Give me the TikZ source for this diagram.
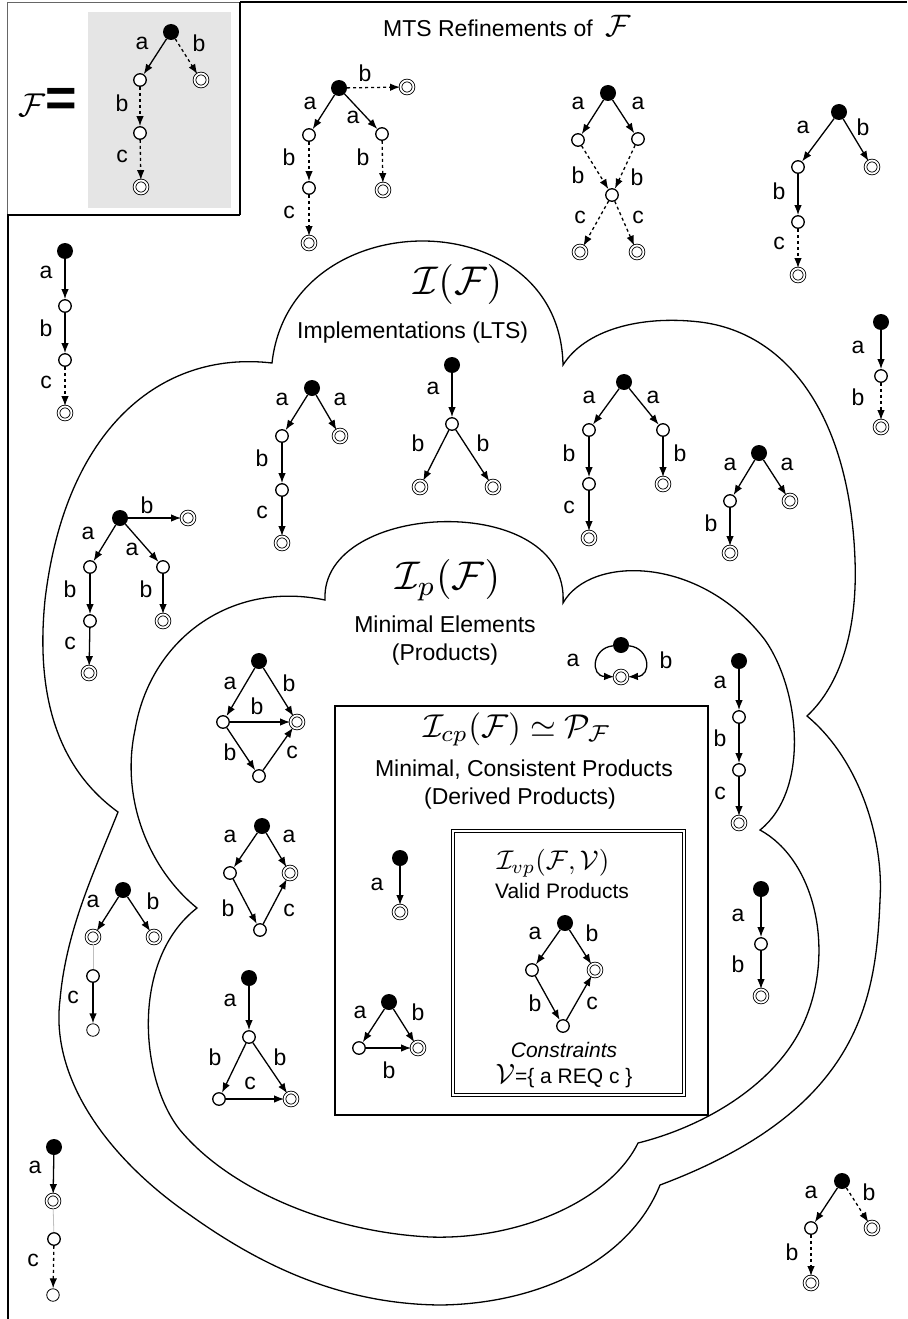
\documentclass[tikz,border=0pt]{standalone}
\usepackage{graphicx}
\usepackage{fontspec}
\setmainfont{Liberation Sans}
\usetikzlibrary{arrows.meta}
% math at an arbitrary size, scaled from the 10pt design size
\newcommand{\scaledmath}[2]{\scalebox{#1}{\normalsize$#2$}}
\begin{document}
\begin{tikzpicture}[x=1pt,y=-1pt,
  init/.style={circle,fill=black,inner sep=0pt,minimum size=16pt},
  st/.style={circle,draw,fill=white,line width=1.3pt,inner sep=0pt,minimum size=12.5pt},
  fin/.style={circle,draw,fill=white,double,double distance=1.8pt,line width=0.85pt,inner sep=0pt,minimum size=13pt},
  ghost/.style={circle,draw,fill=white,line width=0.8pt,inner sep=0pt,minimum size=12.5pt},
  arr/.style={line width=1.3pt,-{Latex[length=10pt,width=7.5pt]}},
  darr/.style={arr,dash pattern=on 3pt off 3pt},
  glink/.style={draw=black!25,line width=0.8pt},
  lab/.style={font=\fontsize{23}{23}\selectfont,inner sep=0pt},
  ttl/.style={font=\fontsize{23}{26}\selectfont,inner sep=0pt,anchor=base},
  sml/.style={font=\fontsize{21}{24}\selectfont,inner sep=0pt,anchor=base},
  mth/.style={inner sep=0pt,anchor=base},
  cloudline/.style={line width=1.3pt},
]
\useasboundingbox (0,0) rectangle (907,1319);

% ---------- frame and the featured transition system F ----------
\fill[black!10] (88,12) rectangle (231,208);
\draw[line width=0.8pt,black!60] (7,2) -- (7,215);
\draw[line width=1.2pt] (7,215) -- (240,215);
\draw[line width=0.8pt,black!60] (7,2) -- (240,2);
\draw[line width=1.5pt] (240,2) -- (907,2);
\draw[line width=1.5pt] (240,2) -- (240,215);
\draw[line width=1.5pt] (8,215) -- (8,1319);
\node[mth] (feq) at (48,117) {\scaledmath{3.3}{\mathcal{F}}\fontsize{54}{54}\selectfont\bfseries=};

\node[init] (f0r) at (171,32) {};
\node[st] (f0n1) at (140,80) {};
\node[fin] (f0f1) at (201,80) {};
\node[st] (f0n2) at (140,133) {};
\node[fin] (f0f2) at (141,187) {};
\draw[arr] (f0r) -- (f0n1);
\draw[darr] (f0r) -- (f0f1);
\draw[darr] (f0n1) -- (f0n2);
\draw[darr] (f0n2) -- (f0f2);
\node[lab] (f0la) at (142,43) {a};
\node[lab] (f0lb) at (199,43) {b};
\node[lab] (f0lb2) at (122,103) {b};
\node[lab] (f0lc) at (122,156) {c};

\node[ttl,anchor=base west] (mts) at (383,37) {MTS Refinements of\ \ \scaledmath{3.1}{\mathcal{F}}};

% ---------- clouds ----------
\draw[cloudline] (272,363) .. controls (290,200) and (560,200) .. (563,365)
  .. controls (585,330) and (640,315) .. (700,322)
  .. controls (790,333) and (850,420) .. (855,560)
  .. controls (858,640) and (835,690) .. (807,716)
  .. controls (860,760) and (884,840) .. (880,900)
  .. controls (876,1000) and (860,1110) .. (660,1185)
  .. controls (630,1260) and (540,1304) .. (440,1305)
  .. controls (340,1304) and (260,1265) .. (190,1215)
  .. controls (110,1160) and (50,1080) .. (60,1000)
  .. controls (66,930) and (95,870) .. (118,812)
  .. controls (60,770) and (35,700) .. (45,600)
  .. controls (65,430) and (160,350) .. (272,363) -- cycle;

\draw[cloudline] (325,600) .. controls (320,500) and (570,490) .. (563,603)
  .. controls (590,555) and (700,555) .. (765,640)
  .. controls (800,690) and (810,790) .. (760,830)
  .. controls (815,860) and (835,950) .. (805,1020)
  .. controls (780,1080) and (710,1125) .. (638,1143)
  .. controls (610,1200) and (520,1240) .. (430,1237)
  .. controls (330,1232) and (230,1190) .. (180,1130)
  .. controls (140,1080) and (130,960) .. (197,908)
  .. controls (150,870) and (120,800) .. (135,730)
  .. controls (150,640) and (230,580) .. (325,600) -- cycle;

\draw[line width=1.4pt] (335,706) rectangle (708,1115);
\draw[line width=0.9pt,double,double distance=2.2pt] (453,831) rectangle (684,1095);

% ---------- titles ----------
\node[mth] (tI) at (458,294) {\scaledmath{4.0}{\mathcal{I}(\mathcal{F})}};
\node[ttl,anchor=base west] (tIa) at (297,338) {Implementations (LTS)};
\node[mth] (tIp) at (448,589) {\scaledmath{4.0}{\mathcal{I}_p(\mathcal{F})}};
\node[ttl] (tIpa) at (445,632) {Minimal Elements};
\node[ttl] (tIpb) at (445,660) {(Products)};
\node[mth] (tIcp) at (517,737) {\scaledmath{3.3}{\mathcal{I}_{cp}(\mathcal{F}) \simeq \mathcal{P}_{\mathcal{F}}}};
\node[ttl] (tIcpa) at (524,776) {Minimal, Consistent Products};
\node[ttl] (tIcpb) at (520,804) {(Derived Products)};
\node[mth] (tIvp) at (553,869) {\scaledmath{2.7}{\mathcal{I}_{vp}(\mathcal{F},\mathcal{V})}};
\node[sml] (tIvpa) at (562,898) {Valid Products};
\node[sml,font=\fontsize{21}{24}\selectfont\itshape] (tcons) at (564,1057) {Constraints};
\node[sml] (tV) at (564,1083) {\scaledmath{2.8}{\mathcal{V}}=\{ a REQ c \}};

% ---------- T1 ----------
\node[init] (t1r) at (339,88) {};
\node[fin] (t1f) at (407,87) {};
\node[st] (t1n1) at (309,135) {};
\node[st] (t1n2) at (382,134) {};
\node[st] (t1n3) at (309,188) {};
\node[fin] (t1f2) at (309,243) {};
\node[fin] (t1f3) at (383,190) {};
\draw[darr] (t1r) -- (t1f);
\draw[arr] (t1r) -- (t1n1);
\draw[arr] (t1r) -- (t1n2);
\draw[darr] (t1n1) -- (t1n3);
\draw[darr] (t1n2) -- (t1f3);
\draw[darr] (t1n3) -- (t1f2);
\node[lab] (t1l1) at (365,73) {b};
\node[lab] (t1l2) at (310,103) {a};
\node[lab] (t1l3) at (353,117) {a};
\node[lab] (t1l4) at (289,157) {b};
\node[lab] (t1l5) at (363,157) {b};
\node[lab] (t1l6) at (289,212) {c};

% ---------- T2 ----------
\node[init] (t2r) at (608,93) {};
\node[st] (t2n1) at (578,140) {};
\node[st] (t2n2) at (638,139) {};
\node[st] (t2m) at (612,195) {};
\node[fin] (t2f1) at (580,252) {};
\node[fin] (t2f2) at (637,252) {};
\draw[arr] (t2r) -- (t2n1);
\draw[arr] (t2r) -- (t2n2);
\draw[darr] (t2n1) -- (t2m);
\draw[darr] (t2n2) -- (t2m);
\draw[darr] (t2m) -- (t2f1);
\draw[darr] (t2m) -- (t2f2);
\node[lab] (t2l1) at (578,103) {a};
\node[lab] (t2l2) at (638,103) {a};
\node[lab] (t2l3) at (578,175) {b};
\node[lab] (t2l4) at (637,177) {b};
\node[lab] (t2l5) at (580,217) {c};
\node[lab] (t2l6) at (638,217) {c};

% ---------- T3 ----------
\node[init] (t3r) at (839,112) {};
\node[st] (t3n1) at (798,167) {};
\node[fin] (t3f1) at (872,167) {};
\node[st] (t3n2) at (798,222) {};
\node[fin] (t3f2) at (798,275) {};
\draw[arr] (t3r) -- (t3n1);
\draw[arr] (t3r) -- (t3f1);
\draw[arr] (t3n1) -- (t3n2);
\draw[darr] (t3n2) -- (t3f2);
\node[lab] (t3l1) at (803,127) {a};
\node[lab] (t3l2) at (863,127) {b};
\node[lab] (t3l3) at (779,191) {b};
\node[lab] (t3l4) at (779,243) {c};

% ---------- T4 ----------
\node[init] (t4r) at (881,322) {};
\node[st] (t4n1) at (881,376) {};
\node[fin] (t4f) at (881,427) {};
\draw[arr] (t4r) -- (t4n1);
\draw[darr] (t4n1) -- (t4f);
\node[lab] (t4l1) at (858,347) {a};
\node[lab] (t4l2) at (858,397) {b};

% ---------- T5 ----------
\node[init] (t5r) at (65,251) {};
\node[st] (t5n1) at (65,306) {};
\node[st] (t5n2) at (65,360) {};
\node[fin] (t5f) at (65,413) {};
\draw[arr] (t5r) -- (t5n1);
\draw[arr] (t5n1) -- (t5n2);
\draw[darr] (t5n2) -- (t5f);
\node[lab] (t5l1) at (46,272) {a};
\node[lab] (t5l2) at (46,328) {b};
\node[lab] (t5l3) at (46,382) {c};

% ---------- T6 ----------
\node[init] (t6r) at (120,518) {};
\node[fin] (t6f1) at (188,518) {};
\node[st] (t6n1) at (90,567) {};
\node[st] (t6n2) at (163,567) {};
\node[st] (t6n3) at (90,621) {};
\node[fin] (t6f2) at (163,621) {};
\node[fin] (t6f3) at (89,673) {};
\draw[arr] (t6r) -- (t6f1);
\draw[arr] (t6r) -- (t6n1);
\draw[arr] (t6r) -- (t6n2);
\draw[arr] (t6n1) -- (t6n3);
\draw[arr] (t6n2) -- (t6f2);
\draw[arr] (t6n3) -- (t6f3);
\node[lab] (t6l1) at (147,505) {b};
\node[lab] (t6l2) at (88,533) {a};
\node[lab] (t6l3) at (132,549) {a};
\node[lab] (t6l4) at (70,589) {b};
\node[lab] (t6l5) at (146,589) {b};
\node[lab] (t6l6) at (70,643) {c};

% ---------- T7 ----------
\node[init] (t7r) at (312,388) {};
\node[st] (t7n1) at (282,436) {};
\node[fin] (t7f1) at (340,436) {};
\node[st] (t7n2) at (282,490) {};
\node[fin] (t7f2) at (282,543) {};
\draw[arr] (t7r) -- (t7n1);
\draw[arr] (t7r) -- (t7f1);
\draw[arr] (t7n1) -- (t7n2);
\draw[arr] (t7n2) -- (t7f2);
\node[lab] (t7l1) at (282,399) {a};
\node[lab] (t7l2) at (340,399) {a};
\node[lab] (t7l3) at (262,458) {b};
\node[lab] (t7l4) at (262,512) {c};

% ---------- T8 ----------
\node[init] (t8r) at (452,365) {};
\node[st] (t8n1) at (452,424) {};
\node[fin] (t8f1) at (420,487) {};
\node[fin] (t8f2) at (493,487) {};
\draw[arr] (t8r) -- (t8n1);
\draw[arr] (t8n1) -- (t8f1);
\draw[arr] (t8n1) -- (t8f2);
\node[lab] (t8l1) at (433,388) {a};
\node[lab] (t8l2) at (418,443) {b};
\node[lab] (t8l3) at (483,443) {b};

% ---------- T9 ----------
\node[init] (t9r) at (624,382) {};
\node[st] (t9n1) at (589,430) {};
\node[st] (t9n2) at (663,430) {};
\node[st] (t9n3) at (589,484) {};
\node[fin] (t9f1) at (663,484) {};
\node[fin] (t9f2) at (589,538) {};
\draw[arr] (t9r) -- (t9n1);
\draw[arr] (t9r) -- (t9n2);
\draw[arr] (t9n1) -- (t9n3);
\draw[arr] (t9n2) -- (t9f1);
\draw[arr] (t9n3) -- (t9f2);
\node[lab] (t9l1) at (589,397) {a};
\node[lab] (t9l2) at (653,397) {a};
\node[lab] (t9l3) at (569,453) {b};
\node[lab] (t9l4) at (680,453) {b};
\node[lab] (t9l5) at (569,507) {c};

% ---------- T10 ----------
\node[init] (t10r) at (759,453) {};
\node[st] (t10n1) at (730,501) {};
\node[fin] (t10f1) at (790,501) {};
\node[fin] (t10f2) at (730,553) {};
\draw[arr] (t10r) -- (t10n1);
\draw[arr] (t10r) -- (t10f1);
\draw[arr] (t10n1) -- (t10f2);
\node[lab] (t10l1) at (730,464) {a};
\node[lab] (t10l2) at (787,464) {a};
\node[lab] (t10l3) at (711,523) {b};

% ---------- T11 (loop) ----------
\node[init] (t11r) at (621,645) {};
\node[fin] (t11f) at (621,677) {};
\draw[arr] (t11r) .. controls (592,648) and (590,676) .. (t11f);
\draw[arr] (t11r) .. controls (650,648) and (652,676) .. (t11f);
\node[lab] (t11l1) at (573,660) {a};
\node[lab] (t11l2) at (666,660) {b};

% ---------- T12 ----------
\node[init] (t12r) at (739,661) {};
\node[st] (t12n1) at (739,717) {};
\node[st] (t12n2) at (739,770) {};
\node[fin] (t12f) at (739,823) {};
\draw[arr] (t12r) -- (t12n1);
\draw[arr] (t12n1) -- (t12n2);
\draw[arr] (t12n2) -- (t12f);
\node[lab] (t12l1) at (720,682) {a};
\node[lab] (t12l2) at (720,738) {b};
\node[lab] (t12l3) at (720,793) {c};

% ---------- T13 ----------
\node[init] (t13r) at (761,889) {};
\node[st] (t13n1) at (761,944) {};
\node[fin] (t13f) at (761,996) {};
\draw[arr] (t13r) -- (t13n1);
\draw[arr] (t13n1) -- (t13f);
\node[lab] (t13l1) at (738,915) {a};
\node[lab] (t13l2) at (738,964) {b};

% ---------- T14 ----------
\node[init] (t14r) at (259,661) {};
\node[st] (t14n1) at (223,722) {};
\node[fin] (t14f) at (297,722) {};
\node[st] (t14n2) at (259,776) {};
\draw[arr] (t14r) -- (t14n1);
\draw[arr] (t14r) -- (t14f);
\draw[arr] (t14n1) -- (t14f);
\draw[arr] (t14n1) -- (t14n2);
\draw[arr] (t14n2) -- (t14f);
\node[lab] (t14l1) at (230,683) {a};
\node[lab] (t14l2) at (289,683) {b};
\node[lab] (t14l3) at (257,706) {b};
\node[lab] (t14l4) at (230,752) {b};
\node[lab] (t14l5) at (292,752) {c};

% ---------- T15 ----------
\node[init] (t15r) at (262,826) {};
\node[st] (t15n1) at (230,873) {};
\node[fin] (t15f) at (290,873) {};
\node[st] (t15n2) at (260,930) {};
\draw[arr] (t15r) -- (t15n1);
\draw[arr] (t15r) -- (t15f);
\draw[arr] (t15n1) -- (t15n2);
\draw[arr] (t15n2) -- (t15f);
\node[lab] (t15l1) at (230,836) {a};
\node[lab] (t15l2) at (289,836) {a};
\node[lab] (t15l3) at (228,908) {b};
\node[lab] (t15l4) at (289,910) {c};

% ---------- T16 ----------
\node[init] (t16r) at (249,978) {};
\node[st] (t16n1) at (249,1037) {};
\node[st] (t16f1) at (219,1099) {};
\node[fin] (t16f2) at (291,1099) {};
\draw[arr] (t16r) -- (t16n1);
\draw[arr] (t16n1) -- (t16f1);
\draw[arr] (t16n1) -- (t16f2);
\draw[arr] (t16f1) -- (t16f2);
\node[lab] (t16l1) at (230,1000) {a};
\node[lab] (t16l2) at (215,1057) {b};
\node[lab] (t16l3) at (280,1057) {b};
\node[lab] (t16l4) at (250,1083) {c};

% ---------- T17 ----------
\node[init] (t17r) at (123,890) {};
\node[fin] (t17g) at (93,937) {};
\node[fin] (t17f) at (154,937) {};
\node[st] (t17n) at (93,976) {};
\node[ghost] (t17e) at (93,1030) {};
\draw[arr] (t17r) -- (t17g);
\draw[arr] (t17r) -- (t17f);
\draw[glink] (t17g) -- (t17n);
\draw[arr] (t17n) -- (t17e);
\node[lab] (t17l1) at (93,901) {a};
\node[lab] (t17l2) at (153,901) {b};
\node[lab] (t17l3) at (73,997) {c};

% ---------- T18 ----------
\node[init] (t18r) at (54,1147) {};
\node[fin] (t18g) at (53,1201) {};
\node[st] (t18n) at (54,1239) {};
\node[ghost] (t18e) at (53,1295) {};
\draw[arr] (t18r) -- (t18g);
\draw[glink] (t18g) -- (t18n);
\draw[darr] (t18n) -- (t18e);
\node[lab] (t18l1) at (35,1167) {a};
\node[lab] (t18l2) at (33,1260) {c};

% ---------- T19 ----------
\node[init] (t19r) at (842,1181) {};
\node[st] (t19n1) at (811,1228) {};
\node[fin] (t19f1) at (872,1228) {};
\node[fin] (t19f2) at (811,1283) {};
\draw[arr] (t19r) -- (t19n1);
\draw[darr] (t19r) -- (t19f1);
\draw[darr] (t19n1) -- (t19f2);
\node[lab] (t19l1) at (811,1192) {a};
\node[lab] (t19l2) at (869,1192) {b};
\node[lab] (t19l3) at (792,1252) {b};

% ---------- T20 (valid product) ----------
\node[init] (t20r) at (565,923) {};
\node[st] (t20n1) at (532,970) {};
\node[fin] (t20f) at (595,970) {};
\node[st] (t20n2) at (563,1026) {};
\draw[arr] (t20r) -- (t20n1);
\draw[arr] (t20r) -- (t20f);
\draw[arr] (t20n1) -- (t20n2);
\draw[arr] (t20n2) -- (t20f);
\node[lab] (t20l1) at (535,933) {a};
\node[lab] (t20l2) at (592,933) {b};
\node[lab] (t20l3) at (535,1003) {b};
\node[lab] (t20l4) at (592,1003) {c};

% ---------- T21 ----------
\node[init] (t21r) at (400,858) {};
\node[fin] (t21f) at (400,912) {};
\draw[arr] (t21r) -- (t21f);
\node[lab] (t21l1) at (377,884) {a};

% ---------- T22 ----------
\node[init] (t22r) at (389,1002) {};
\node[st] (t22n1) at (359,1048) {};
\node[fin] (t22f) at (418,1048) {};
\draw[arr] (t22r) -- (t22n1);
\draw[arr] (t22r) -- (t22f);
\draw[arr] (t22n1) -- (t22f);
\node[lab] (t22l1) at (360,1012) {a};
\node[lab] (t22l2) at (418,1012) {b};
\node[lab] (t22l3) at (389,1070) {b};
\end{tikzpicture}
\end{document}
